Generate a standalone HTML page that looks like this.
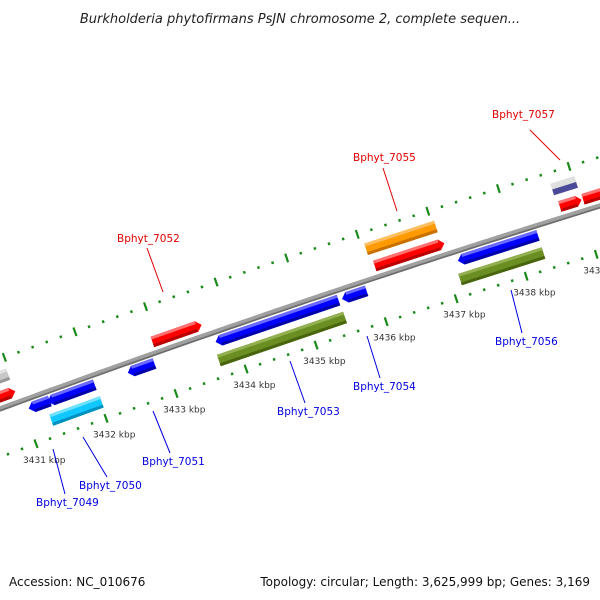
<!DOCTYPE html>
<html><head><meta charset="utf-8"><style>
body{margin:0;background:#fff;}
svg{display:block;font-family:"DejaVu Sans","Liberation Sans",sans-serif;}
</style></head><body>
<svg id="c" width="600" height="600" viewBox="0 0 600 600">
<text x="300" y="23" text-anchor="middle" font-size="13" font-style="italic" fill="#222">Burkholderia phytofirmans PsJN chromosome 2, complete sequen...</text>
<g id="ticks"></g>
<g id="back"></g>
<g id="genes"></g>
<g id="labels"></g>
<text x="9" y="586" font-size="12" fill="#111">Accession: NC_010676</text>
<text x="590" y="586" font-size="12" fill="#111" text-anchor="end">Topology: circular; Length: 3,625,999 bp; Genes: 3,169</text>
</svg>
<script>
// data
const tickKbp = [3430,3431,3432,3433,3434,3435,3436,3437,3438,3439,3440];
const tickLabels = ["3430 kbp","3431 kbp","3432 kbp","3433 kbp","3434 kbp","3435 kbp","3436 kbp","3437 kbp","3438 kbp","3439 kbp","3440 kbp"];
const geneStart = [3430.29,3430.43,3431.07,3431.34,3431.30,3432.48,3432.93,3433.73,3433.69,3435.53,3436.09,3436.05,3437.18,3437.13,3438.72,3439.05,3438.69];
const geneEnd   = [3430.97,3430.98,3431.37,3432.01,3432.02,3432.86,3433.63,3435.48,3435.49,3435.88,3437.08,3437.04,3438.32,3438.32,3439.03,3439.60,3439.03];
const geneStrand= [1,1,-1,-1,-1,-1,1,-1,-1,-1,1,1,-1,-1,1,1,1];
const geneRow   = [2,1,1,1,2,1,1,1,2,1,1,2,1,2,1,1,2];
const geneColor = ["grey","red","blue","blue","cyan","blue","red","blue","olive","blue","red","orange","blue","olive","red","red","greynavy"];
const geneNames = ["","","Bphyt_7049","Bphyt_7050","","Bphyt_7051","Bphyt_7052","Bphyt_7053","","Bphyt_7054","Bphyt_7055","","Bphyt_7056","","","","Bphyt_7057"];

const NS="http://www.w3.org/2000/svg";
function yb(x){return 408-0.3683*x+0.00005*x*x;}
function P(x0,v){const s=-0.3683+0.0001*x0;const L=Math.sqrt(1+s*s);return [x0+(-s/L)*v, yb(x0)+(1/L)*v];}
function X(k){return 90.5+(k-3432)*70.3;}
function mk(tag,attrs,parent){const e=document.createElementNS(NS,tag);for(const k in attrs)e.setAttribute(k,attrs[k]);parent.appendChild(e);return e;}
function poly(pts){return pts.map(p=>p[0].toFixed(1)+","+p[1].toFixed(1)).join(" ");}

// backbone
const back=document.getElementById('back');
let pts1=[],pts2=[];
for(let x=-20;x<=620;x+=10){pts1.push(P(x,0));pts2.push(P(x,2));}
const bl=mk('polyline',{points:poly(pts2),fill:'none',stroke:'#6e6e6e','stroke-width':3},back);


const bm=mk('polyline',{points:poly(pts1),fill:'none',stroke:'#a0a0a0','stroke-width':3.5},back);



// ticks
const tg=document.getElementById('ticks');
const green="#1a8a1a";
for(let i=0;i<tickKbp.length-1;i++){
  for(let j=0;j<5;j++){
    const k=tickKbp[i]+j*0.2;const x0=X(k);
    [-46,46].forEach(v=>{
      const big=j===0;const h=big?4.5:1.3;
      const a=P(x0,v-h),b=P(x0,v+h);
      const l=mk('line',{x1:a[0],y1:a[1],x2:b[0],y2:b[1],stroke:green,'stroke-width':big?2.2:2.4},tg);
      
      
    });
  }
  const p=P(X(tickKbp[i]),46);
  const t=mk('text',{x:p[0]-13,y:p[1]+19,'font-size':9,fill:'#333'},tg);
  t.textContent=tickLabels[i];
  
  
}

// genes
const pal={red:["#ff0000","#ff7070","#b80000"],blue:["#0000ff","#6a6aff","#0000a8"],cyan:["#10c8ff","#70e2ff","#0090c0"],
  olive:["#6b8e23","#93b050","#48650e"],orange:["#ff9a00","#ffbf60","#c87000"],grey:["#c8c8c8","#e2e2e2","#999"],greynavy:["#c8c8c8","#e0e0e0","#4a4a98"]};
const gg=document.getElementById('genes');
for(let i=0;i<geneStart.length;i++){
  const a=X(geneStart[i]),b=X(geneEnd[i]);const s=geneStrand[i],r=geneRow[i];
  let v1,v2;
  if(r===1){v1=5;v2=16;}else{v1=23;v2=35;}
  if(s>0){const t=v1;v1=-v2;v2=-t;}
  const vm=(v1+v2)/2;const aw=r===1?5:0;const c=pal[geneColor[i]];
  let shape;
  if(s>0) shape=[P(a,v1),P(b-aw,v1),P(b,vm),P(b-aw,v2),P(a,v2)];
  else shape=[P(a,vm),P(a+aw,v1),P(b,v1),P(b,v2),P(a+aw,v2)];
  const g=mk('g',{},gg);
  
  
  const m=mk('polygon',{points:poly(shape),fill:c[0]},g);
  
  
  const hh=geneColor[i]==='greynavy'?(v2-v1)/2:3;
  const topA=s>0?a:a+aw,topB=s>0?b-aw:b;
  const hl=mk('polygon',{points:poly([P(topA,v1),P(topB,v1),P(topB,v1+hh),P(topA,v1+hh)]),fill:c[1]},g);
  
  
  const dh=geneColor[i]==='greynavy'?(v2-v1)/2:3;
  const dk=mk('polygon',{points:poly([P(topA,v2-dh),P(topB,v2-dh),P(topB,v2),P(topA,v2)]),fill:c[2]},g);
  
  
}

// labels
const lab=[["Bphyt_7057",492,118,"#e00000",530,130,560,160],["Bphyt_7055",353,161,"#e00000",383,168,397,211],
 ["Bphyt_7052",117,242,"#e00000",147,248,163,292],["Bphyt_7056",495,345,"#0000e0",511,290,522,333],
 ["Bphyt_7054",353,390,"#0000e0",367,336,380,378],["Bphyt_7053",277,415,"#0000e0",290,361,305,403],
 ["Bphyt_7051",142,465,"#0000e0",153,411,170,453],["Bphyt_7050",79,489,"#0000e0",83,437,107,477],
 ["Bphyt_7049",36,506,"#0000e0",53,449,65,494]];
const lg=document.getElementById('labels');
lab.forEach(d=>{
  const l=mk('line',{x1:d[4],y1:d[5],x2:d[6],y2:d[7],stroke:d[3],'stroke-width':1},lg);
  
  
  const t=mk('text',{x:d[1],y:d[2],'font-size':10.5,fill:d[3]},lg);
  t.textContent=d[0];
  
  
});
</script>
</body></html>
